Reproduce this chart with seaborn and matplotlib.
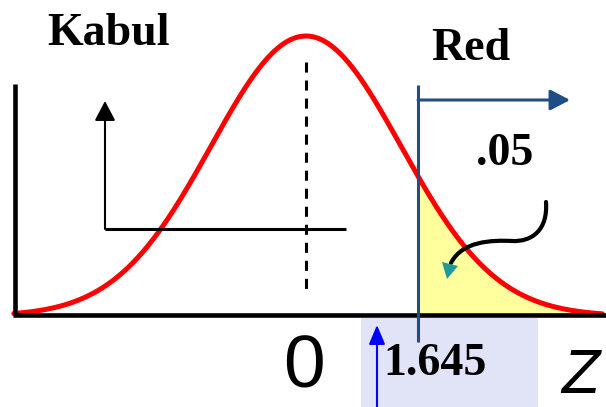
import numpy as np
import pandas as pd
import matplotlib
matplotlib.use("Agg")
import matplotlib.pyplot as plt
import seaborn as sns
from matplotlib.patches import Rectangle, PathPatch, Polygon, FancyArrowPatch
from matplotlib.path import Path

# --- values -------------------------------------------------------------
z_critical = 1.645          # one-sided critical value
alpha_label = ".05"         # rejection-region area
accept_label = "Kabul"
reject_label = "Red"
center_label = "0"
axis_label = "Z"
bell_spread = 1.395         # spread of the drawn bell, in z units
z_range = [-4.29, 4.35]     # where the bell is drawn

# --- canvas -------------------------------------------------------------
W, H = 606, 407
sns.set_theme(style="white")
plt.rcParams["font.family"] = ["Liberation Serif", "DejaVu Sans"]

fig = plt.figure(figsize=(W / 100, H / 100), dpi=100)
ax = fig.add_axes([0, 0, 1, 1])
ax.set_axis_off()

# pixel layout of the axes
px_origin, px_per_z = 306, 68.1
py_base, peak_pdf, py_peak = 316, 1 / (np.sqrt(2 * np.pi) * bell_spread), 36
y_per_px = peak_pdf / (py_base - py_peak)
ax.set_xlim((0 - px_origin) / px_per_z, (W - px_origin) / px_per_z)
ax.set_ylim(-(H - py_base) * y_per_px, py_base * y_per_px)


def X(px):
    return (px - px_origin) / px_per_z


def Y(py):
    return (py_base - py) * y_per_px


# --- density curve -------------------------------------------------------
z = np.linspace(z_range[0], z_range[1], 400)
pdf = np.exp(-0.5 * (z / bell_spread) ** 2) / (np.sqrt(2 * np.pi) * bell_spread)
df = pd.DataFrame({"z": z, "pdf": pdf})

# lavender box behind the critical value label
ax.add_patch(Rectangle((X(361), Y(407)), X(538) - X(361), Y(318) - Y(407),
                       facecolor="#E1E3F6", edgecolor="none", zorder=0))

# shaded rejection region
tail = df[df.z >= z_critical]
ax.fill_between(tail.z, 0, tail.pdf, color="#FFFF9E", lw=0, zorder=1)

sns.lineplot(data=df, x="z", y="pdf", ax=ax, color="#FF0000", lw=3.6,
             zorder=3, estimator=None, sort=False)

# mean marker (dashes start at the top end)
ax.plot([0, 0], [Y(62), Y(296)], color="black", lw=2.2,
        linestyle=(0, (3.3, 2.6)), dash_capstyle="butt", zorder=2)

# axes lines
ax.plot([X(15), X(15)], [Y(84), Y(315)], color="black", lw=3.3,
        solid_capstyle="butt", zorder=4)
ax.plot([X(13), X(606)], [Y(315), Y(315)], color="black", lw=3.3,
        solid_capstyle="butt", zorder=4)

# critical line and rejection arrow
blue = "#1F4E86"
ax.plot([z_critical, z_critical], [Y(342), Y(85)], color=blue, lw=2.2,
        solid_capstyle="butt", zorder=5)
ax.add_patch(FancyArrowPatch((z_critical, Y(100)), (X(570), Y(100)),
                             arrowstyle="-|>,head_length=0.8,head_width=0.42",
                             mutation_scale=15, color=blue, lw=2.2,
                             shrinkA=0, shrinkB=0, zorder=5))

# acceptance bracket
ax.plot([X(105), X(346)], [Y(229), Y(229)], color="black", lw=2.2,
        solid_capstyle="butt", zorder=4)
ax.add_patch(FancyArrowPatch((X(105), Y(229)), (X(105), Y(101)),
                             arrowstyle="-|>,head_length=0.8,head_width=0.42",
                             mutation_scale=15, color="black", lw=1.5,
                             shrinkA=0, shrinkB=0, zorder=4))

# small blue pointer under the critical value
ax.add_patch(FancyArrowPatch((X(377), Y(410)), (X(377), Y(325)),
                             arrowstyle="-|>,head_length=0.9,head_width=0.38",
                             mutation_scale=13, color="#0000FF", lw=1.5,
                             shrinkA=0, shrinkB=0, zorder=5))

# wavy pointer into the tail area
pts = [(546, 202), (548, 230), (532, 242), (512, 241),
       (492, 240), (462, 241), (451, 263)]
codes = [Path.MOVETO] + [Path.CURVE4] * 6
ax.add_patch(PathPatch(Path([(X(a), Y(b)) for a, b in pts], codes),
                       facecolor="none", edgecolor="black", lw=3.0,
                       capstyle="round", zorder=6))
ax.add_patch(Polygon([(X(442), Y(262)), (X(458), Y(266)), (X(447), Y(279))],
                     closed=True, facecolor="#1E9A9A", edgecolor="none",
                     zorder=7))

# --- text ----------------------------------------------------------------
bold = dict(fontweight="bold", fontsize=33, color="black",
            family=["Liberation Serif", "DejaVu Serif"], zorder=8)
ax.text(X(108), Y(45), accept_label, ha="center", va="baseline", **bold)
ax.text(X(471), Y(60), reject_label, ha="center", va="baseline", **bold)
ax.text(X(505), Y(165), alpha_label, ha="center", va="baseline", **bold)
ax.text(X(435), Y(375), f"{z_critical:.3f}", ha="center", va="baseline", **bold)
ax.text(X(304), Y(387), center_label, ha="center", va="baseline", color="black",
        fontsize=54, family=["Liberation Sans", "DejaVu Sans"], zorder=8)
ax.text(X(580), Y(393), axis_label, ha="center", va="baseline", color="black",
        fontsize=45, style="italic", family=["Liberation Sans", "DejaVu Sans"],
        zorder=8)

fig.savefig("out.png", dpi=100)
